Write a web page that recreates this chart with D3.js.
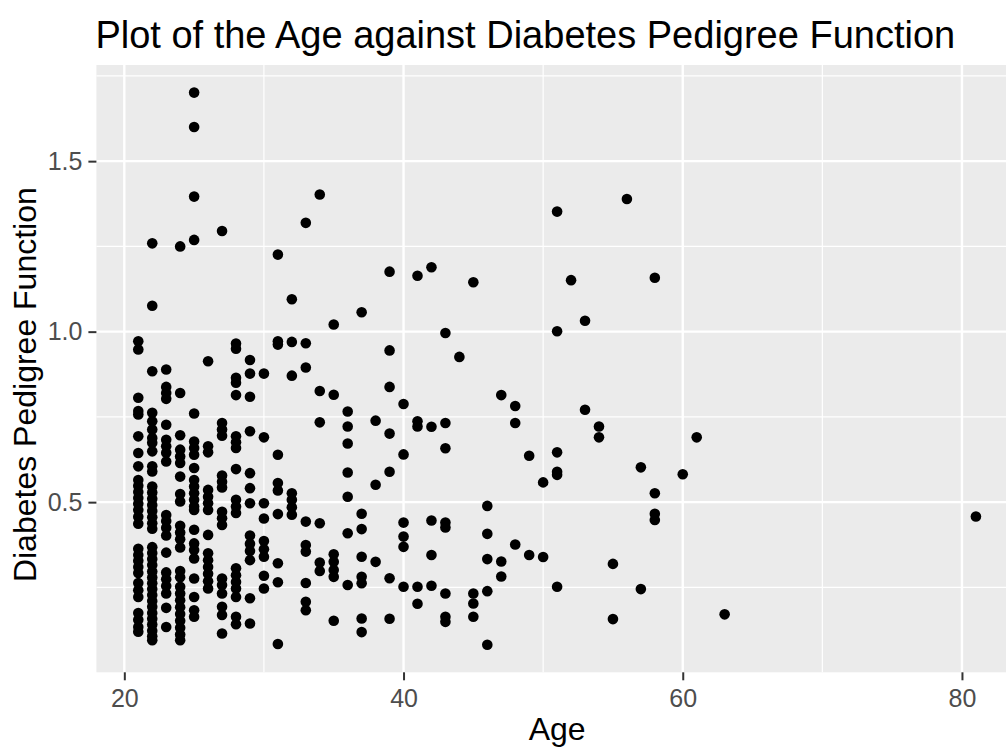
<!DOCTYPE html>
<html>
<head>
<meta charset="utf-8">
<script src="https://cdn.jsdelivr.net/npm/d3@7"></script>
<style>
  html, body { margin: 0; padding: 0; background: #ffffff; }
  svg { display: block; font-family: "Liberation Sans", Arial, sans-serif; }
</style>
</head>
<body>
<svg id="chart" width="1006" height="751"></svg>
<script>
// Ages present in the sample (one column of points per age)
const ages = [21, 22, 23, 24, 25, 26, 27, 28, 29, 30, 31, 32, 33, 34, 35, 36, 37, 38, 39, 40,
              41, 42, 43, 44, 45, 46, 47, 48, 49, 50, 51, 52, 53, 54, 55, 56, 57, 58, 60, 61, 63, 81];

// Diabetes pedigree function values for each age above
const pedigreeByAge = [
  [0.972, 0.948, 0.806, 0.767, 0.757, 0.693, 0.644, 0.605, 0.565, 0.548, 0.530, 0.512, 0.495, 0.477, 0.457, 0.437, 0.363, 0.345, 0.328, 0.310, 0.292, 0.263, 0.242, 0.222, 0.175, 0.155, 0.134, 0.120],
  [1.259, 1.076, 0.884, 0.762, 0.737, 0.713, 0.688, 0.674, 0.649, 0.605, 0.590, 0.546, 0.528, 0.510, 0.492, 0.474, 0.456, 0.438, 0.422, 0.368, 0.351, 0.333, 0.316, 0.297, 0.279, 0.262, 0.245, 0.228, 0.210, 0.193, 0.175, 0.158, 0.141, 0.123, 0.107, 0.095],
  [0.889, 0.838, 0.820, 0.803, 0.727, 0.683, 0.664, 0.645, 0.619, 0.462, 0.445, 0.425, 0.402, 0.352, 0.294, 0.274, 0.254, 0.232, 0.190, 0.134],
  [1.250, 0.820, 0.696, 0.654, 0.634, 0.615, 0.575, 0.524, 0.502, 0.431, 0.411, 0.391, 0.367, 0.298, 0.280, 0.252, 0.232, 0.212, 0.192, 0.172, 0.152, 0.132, 0.112, 0.095],
  [1.701, 1.600, 1.396, 1.269, 0.760, 0.678, 0.659, 0.639, 0.600, 0.565, 0.546, 0.526, 0.507, 0.487, 0.477, 0.419, 0.379, 0.360, 0.335, 0.276, 0.222, 0.183, 0.164],
  [0.913, 0.664, 0.646, 0.536, 0.516, 0.497, 0.477, 0.404, 0.350, 0.330, 0.310, 0.290, 0.268, 0.247],
  [1.295, 0.732, 0.713, 0.695, 0.578, 0.560, 0.543, 0.472, 0.453, 0.433, 0.276, 0.257, 0.232, 0.193, 0.169, 0.115],
  [0.965, 0.950, 0.865, 0.850, 0.814, 0.693, 0.676, 0.659, 0.597, 0.507, 0.487, 0.468, 0.306, 0.286, 0.266, 0.247, 0.222, 0.164, 0.142],
  [0.917, 0.877, 0.809, 0.708, 0.585, 0.541, 0.497, 0.402, 0.378, 0.357, 0.330, 0.218, 0.144],
  [0.877, 0.690, 0.497, 0.452, 0.386, 0.362, 0.340, 0.284, 0.247],
  [1.226, 0.972, 0.962, 0.639, 0.556, 0.534, 0.465, 0.321, 0.265, 0.084],
  [1.095, 0.970, 0.871, 0.526, 0.507, 0.485, 0.463],
  [1.319, 0.966, 0.895, 0.443, 0.374, 0.355, 0.263, 0.208, 0.183],
  [1.402, 0.826, 0.734, 0.438, 0.323, 0.298],
  [1.021, 0.815, 0.347, 0.325, 0.301, 0.281, 0.152],
  [0.766, 0.722, 0.672, 0.587, 0.516, 0.409, 0.257],
  [1.057, 0.466, 0.421, 0.340, 0.281, 0.262, 0.159, 0.119],
  [0.739, 0.551, 0.325],
  [1.176, 0.945, 0.838, 0.701, 0.589, 0.277, 0.158],
  [0.788, 0.640, 0.440, 0.399, 0.369, 0.252],
  [1.164, 0.737, 0.722, 0.252, 0.202],
  [1.189, 0.721, 0.446, 0.345, 0.255],
  [0.996, 0.732, 0.658, 0.440, 0.426, 0.232, 0.164, 0.149],
  [0.926],
  [1.145, 0.232, 0.203, 0.164],
  [0.489, 0.407, 0.333, 0.239, 0.082],
  [0.814, 0.326, 0.282],
  [0.782, 0.732, 0.376],
  [0.636, 0.345],
  [0.558, 0.339],
  [1.352, 1.001, 0.646, 0.589, 0.580, 0.252],
  [1.151],
  [1.032, 0.771],
  [0.722, 0.690],
  [0.319, 0.157],
  [1.389],
  [0.602, 0.245],
  [1.158, 0.526, 0.466, 0.448],
  [0.582],
  [0.690],
  [0.171],
  [0.458]
];

// Axis breaks and labels
const xMajorTicks = [20, 40, 60, 80];
const xMinorTicks = [30, 50, 70];
const yMajorTicks = [0.5, 1.0, 1.5];
const yMinorTicks = [0.25, 0.75, 1.25, 1.75];
const yTickLabels = ["0.5", "1.0", "1.5"];

const titleText = "Plot of the Age against Diabetes Pedigree Function";
const xTitleText = "Age";
const yTitleText = "Diabetes Pedigree Function";

// One record per observation
const points = ages.flatMap((age, i) => pedigreeByAge[i].map(v => ({ age: age, dpf: v })));

const svg = d3.select("#chart");
const W = 1006, H = 751;
svg.append("rect").attr("width", W).attr("height", H).attr("fill", "#ffffff");

// Plot panel box (right side runs past the canvas edge)
const panel = { left: 96.4, right: 1017.8, top: 65, bottom: 672.3 };

// ggplot-style 5% expansion of the data range
function expand(ext, f) {
  const pad = (ext[1] - ext[0]) * f;
  return [ext[0] - pad, ext[1] + pad];
}
const x = d3.scaleLinear()
  .domain(expand(d3.extent(points, d => d.age), 0.05))
  .range([panel.left, panel.right]);
const y = d3.scaleLinear()
  .domain(expand(d3.extent(points, d => d.dpf), 0.05))
  .range([panel.bottom, panel.top]);

// Panel background
svg.append("rect")
  .attr("x", panel.left).attr("y", panel.top)
  .attr("width", panel.right - panel.left).attr("height", panel.bottom - panel.top)
  .attr("fill", "#EBEBEB");

const grid = svg.append("g").attr("stroke", "#ffffff");
// minor grid
grid.selectAll("line.xmin").data(xMinorTicks).join("line")
  .attr("x1", d => x(d)).attr("x2", d => x(d))
  .attr("y1", panel.top).attr("y2", panel.bottom)
  .attr("stroke-width", 1.2);
grid.selectAll("line.ymin").data(yMinorTicks).join("line")
  .attr("x1", panel.left).attr("x2", panel.right)
  .attr("y1", d => y(d)).attr("y2", d => y(d))
  .attr("stroke-width", 1.2);
// major grid
grid.selectAll("line.xmaj").data(xMajorTicks).join("line")
  .attr("x1", d => x(d)).attr("x2", d => x(d))
  .attr("y1", panel.top).attr("y2", panel.bottom)
  .attr("stroke-width", 2.4);
grid.selectAll("line.ymaj").data(yMajorTicks).join("line")
  .attr("x1", panel.left).attr("x2", panel.right)
  .attr("y1", d => y(d)).attr("y2", d => y(d))
  .attr("stroke-width", 2.4);

// Points
svg.append("g")
  .selectAll("circle")
  .data(points)
  .join("circle")
  .attr("cx", d => x(d.age))
  .attr("cy", d => y(d.dpf))
  .attr("r", 5.3)
  .attr("fill", "#000000");

// Axes
const xAxis = d3.axisBottom(x).tickValues(xMajorTicks).tickSize(8).tickPadding(9).tickFormat(d3.format("d"));
const yAxis = d3.axisLeft(y).tickValues(yMajorTicks).tickSize(8).tickPadding(6)
  .tickFormat((d, i) => yTickLabels[i]);

const gx = svg.append("g").attr("transform", `translate(0,${panel.bottom})`).call(xAxis);
const gy = svg.append("g").attr("transform", `translate(${panel.left},0)`).call(yAxis);
[gx, gy].forEach(g => {
  g.select(".domain").remove();
  g.selectAll(".tick line").attr("stroke", "#333333").attr("stroke-width", 2);
  g.selectAll(".tick text")
    .attr("fill", "#4D4D4D")
    .style("font-size", "25px")
    .style("font-family", "'Liberation Sans', Arial, sans-serif");
});

// Titles
svg.append("text")
  .attr("x", panel.left - 1).attr("y", 48)
  .attr("fill", "#000000")
  .style("font-size", "38px")
  .text(titleText);

svg.append("text")
  .attr("x", (panel.left + panel.right) / 2).attr("y", 740)
  .attr("text-anchor", "middle")
  .attr("fill", "#000000")
  .style("font-size", "32px")
  .text(xTitleText);

svg.append("text")
  .attr("transform", `translate(36,${(panel.top + panel.bottom) / 2 + 16}) rotate(-90)`)
  .attr("text-anchor", "middle")
  .attr("fill", "#000000")
  .style("font-size", "32px")
  .text(yTitleText);
</script>
</body>
</html>
